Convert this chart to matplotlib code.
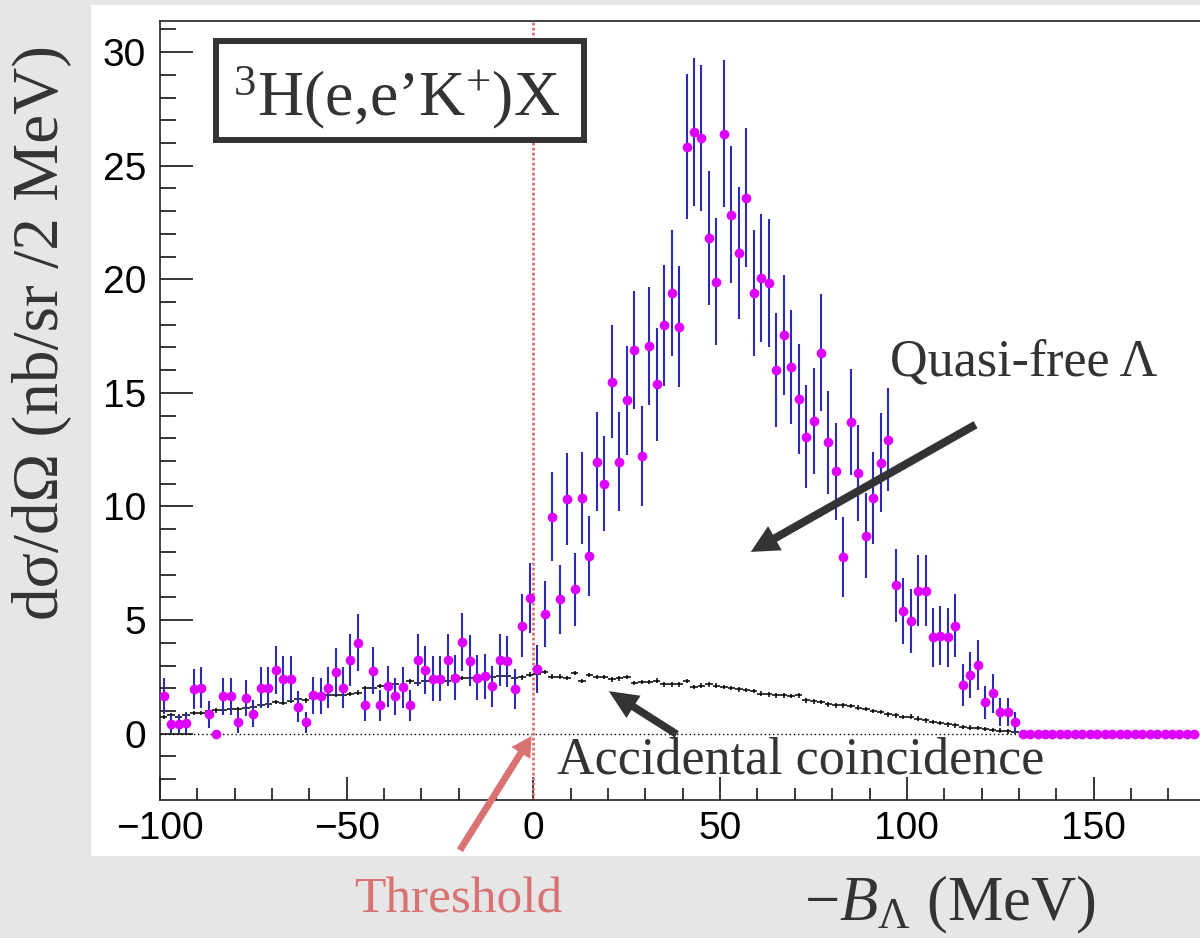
import numpy as np
import matplotlib
matplotlib.use('Agg')
from matplotlib import pyplot as plt
from matplotlib.patches import Rectangle
from matplotlib.ticker import MultipleLocator

plt.rcParams['mathtext.fontset'] = 'custom'
plt.rcParams['mathtext.rm'] = 'Liberation Serif'
plt.rcParams['mathtext.it'] = 'Liberation Serif:italic'
plt.rcParams['mathtext.bf'] = 'Liberation Serif:bold'

# 2 MeV bins, centres at -99 ... 177
bin_centers = np.arange(-99, 178, 2)

# (e,e'K+) cross section, nb/sr/2MeV
signal = [
    1.66, 0.43, 0.43, 0.48, 1.96, 2.02, 0.85, 0.00, 1.64, 1.64,
    0.50, 1.58, 0.88, 2.02, 2.02, 2.80, 2.42, 2.42, 1.19, 0.50,
    1.68, 1.66, 2.02, 2.72, 2.02, 3.24, 4.00, 1.24, 2.78, 1.24,
    2.08, 1.64, 2.05, 1.24, 3.25, 2.81, 2.42, 2.42, 3.25, 2.46,
    4.05, 3.22, 2.46, 2.52, 2.08, 3.25, 3.19, 1.95, 4.76, 5.96,
    2.85, 5.27, 9.55, 5.91, 10.32, 6.35, 10.38, 7.83, 11.97, 11.00,
    15.49, 11.97, 14.67, 16.90, 12.22, 17.08, 15.37, 17.98, 19.38, 17.92,
    25.84, 26.48, 26.22, 21.82, 19.90, 26.41, 22.84, 21.17, 23.60, 19.39,
    20.04, 19.84, 16.00, 17.54, 16.14, 14.73, 13.08, 13.77, 16.77, 12.82,
    11.55, 7.78, 13.71, 11.47, 8.72, 10.38, 11.92, 12.94, 6.54, 5.40,
    4.95, 6.30, 6.30, 4.25, 4.32, 4.25, 4.76, 2.15, 2.59, 3.03,
    1.38, 1.77, 0.94, 0.94, 0.50, 0.00, 0.00, 0.00, 0.00, 0.00,
    0.00, 0.00, 0.00, 0.00, 0.00, 0.00, 0.00, 0.00, 0.00, 0.00,
    0.00, 0.00, 0.00, 0.00, 0.00, 0.00, 0.00, 0.00, 0.00,
]

signal_err = [
    0.81, 0.41, 0.41, 0.44, 0.88, 0.90, 0.58, 0.00, 0.81, 0.81,
    0.45, 0.79, 0.59, 0.90, 0.90, 1.05, 0.98, 0.98, 0.69, 0.45,
    0.82, 0.81, 0.90, 1.04, 0.90, 1.13, 1.26, 0.70, 1.05, 0.70,
    0.91, 0.81, 0.90, 0.70, 1.14, 1.06, 0.98, 0.98, 1.14, 0.99,
    1.27, 1.13, 0.99, 1.00, 0.91, 1.14, 1.13, 0.88, 1.37, 1.54,
    1.06, 1.45, 1.95, 1.53, 2.02, 1.59, 2.03, 1.76, 2.18, 2.09,
    2.48, 2.18, 2.41, 2.59, 2.20, 2.60, 2.47, 2.67, 2.77, 2.67,
    3.20, 3.24, 3.23, 2.94, 2.81, 3.24, 3.01, 2.90, 3.06, 2.77,
    2.82, 2.81, 2.52, 2.64, 2.53, 2.42, 2.28, 2.34, 2.58, 2.26,
    2.14, 1.76, 2.33, 2.13, 1.86, 2.03, 2.18, 2.27, 1.61, 1.46,
    1.40, 1.58, 1.58, 1.30, 1.31, 1.30, 1.37, 0.92, 1.01, 1.10,
    0.74, 0.84, 0.61, 0.61, 0.45, 0.00, 0.00, 0.00, 0.00, 0.00,
    0.00, 0.00, 0.00, 0.00, 0.00, 0.00, 0.00, 0.00, 0.00, 0.00,
    0.00, 0.00, 0.00, 0.00, 0.00, 0.00, 0.00, 0.00, 0.00,
]

# accidental coincidence background
accidental = [
    0.73, 0.80, 0.75, 0.84, 0.90, 0.90, 0.99, 1.02, 1.04, 1.10,
    1.07, 1.11, 1.17, 1.26, 1.29, 1.39, 1.35, 1.45, 1.51, 1.46,
    1.57, 1.55, 1.71, 1.71, 1.71, 1.75, 1.80, 2.02, 2.02, 2.09,
    2.09, 2.17, 2.07, 2.30, 2.22, 2.31, 2.34, 2.39, 2.31, 2.53,
    2.46, 2.46, 2.46, 2.53, 2.48, 2.56, 2.56, 2.45, 2.48, 2.60,
    2.61, 2.71, 2.51, 2.51, 2.46, 2.68, 2.31, 2.58, 2.49, 2.49,
    2.39, 2.43, 2.49, 2.24, 2.27, 2.28, 2.34, 2.17, 2.17, 2.17,
    2.31, 2.05, 2.12, 2.17, 2.12, 2.05, 2.00, 1.95, 1.92, 1.87,
    1.76, 1.73, 1.69, 1.69, 1.66, 1.69, 1.46, 1.42, 1.39, 1.29,
    1.24, 1.24, 1.21, 1.14, 1.09, 0.99, 0.96, 0.85, 0.80, 0.73,
    0.75, 0.66, 0.59, 0.52, 0.46, 0.41, 0.36, 0.30, 0.27, 0.24,
    0.20, 0.16, 0.13, 0.10, 0.08, 0.00, 0.00, 0.00, 0.00, 0.00,
    0.00, 0.00, 0.00, 0.00, 0.00, 0.00, 0.00, 0.00, 0.00, 0.00,
    0.00, 0.00, 0.00, 0.00, 0.00, 0.00, 0.00, 0.00, 0.00,
]
accidental_err = 0.1
bin_half_width = 1.0

threshold = 0.0

W, H = 1200, 938


def fx(px):
    return px / W


def fy(py):
    return 1 - py / H


SERIF = 'Liberation Serif'
DARK = '#333333'
SALMON = '#d97373'

fig = plt.figure(figsize=(W / 100, H / 100), dpi=100, facecolor='#e6e6e6')

# white canvas behind the plot
fig.patches.append(Rectangle((fx(91), fy(856)), 1 - fx(91), (856 - 5) / H,
                             transform=fig.transFigure, facecolor='white',
                             edgecolor='none', zorder=-1))

ax = fig.add_axes([fx(160), fy(800), 1 - fx(160), (800 - 21) / H])
ax.set_facecolor('white')

# accidental background
ax.errorbar(bin_centers, accidental, xerr=bin_half_width, yerr=accidental_err,
            fmt='none', ecolor='black', elinewidth=1.1, capsize=0, zorder=3)

# data points
ax.errorbar(bin_centers, signal, yerr=signal_err, fmt='none',
            ecolor='#2b2bb8', elinewidth=1.5, capsize=0, zorder=4)
ax.plot(bin_centers, signal, 'o', color='#dd00ff', ms=7, mec='#dd00ff',
        mew=0, zorder=5)

ax.axhline(0, color='black', lw=1.0, ls=(0, (1, 2)), zorder=2)
ax.axvline(threshold, color='#e07070', lw=2.0, ls=(0, (1, 0.8)), zorder=2)

ax.set_xlim(-100, 178.5)
ax.set_ylim(-2.92, 31.37)

ax.xaxis.set_major_locator(MultipleLocator(50))
ax.xaxis.set_minor_locator(MultipleLocator(10))
ax.yaxis.set_major_locator(MultipleLocator(5))
ax.yaxis.set_minor_locator(MultipleLocator(1))
ax.tick_params(which='both', direction='in', top=False, right=False,
               color='black', width=1.1, labelsize=28)
ax.tick_params(axis='x', which='major', length=16.5, pad=8)
ax.tick_params(axis='x', which='minor', length=8.6)
ax.tick_params(axis='y', which='major', length=23.8, pad=10)
ax.tick_params(axis='y', which='minor', length=11.5)
for lab in ax.get_xticklabels() + ax.get_yticklabels():
    lab.set_fontfamily('Liberation Sans')

ax.spines['right'].set_visible(False)
for s in ['left', 'bottom', 'top']:
    ax.spines[s].set_color('#222222')
    ax.spines[s].set_linewidth(1.2)

# arrows
ax.annotate('', xy=(58.2, 8.0), xytext=(118.4, 13.6),
            arrowprops=dict(arrowstyle='simple,head_length=2.0,head_width=2.0,tail_width=0.58',
                            mutation_scale=10, color=DARK, lw=0,
                            shrinkA=0, shrinkB=0), zorder=6)
ax.annotate('', xy=(20.2, 1.87), xytext=(38.4, -0.03),
            arrowprops=dict(arrowstyle='simple,head_length=2.1,head_width=1.9,tail_width=0.55',
                            mutation_scale=10, color=DARK, lw=0,
                            shrinkA=0, shrinkB=0), zorder=6)
ax.annotate('', xy=(-0.5, -0.1), xytext=(-19.7, -5.13),
            arrowprops=dict(arrowstyle='simple,head_length=1.45,head_width=1.6,tail_width=0.5',
                            mutation_scale=10, color=SALMON, lw=0,
                            shrinkA=0, shrinkB=0),
            annotation_clip=False, zorder=6)

# reaction label box
fig.patches.append(Rectangle((fx(216), fy(140)), (584 - 216) / W, (140 - 41) / H,
                             transform=fig.transFigure, facecolor='white',
                             edgecolor=DARK, lw=4.3, zorder=5))
fig.text(fx(397), fy(115), r'$^{3}$H(e,e’K$^{+}$)X', family=SERIF, fontsize=46,
         color=DARK, ha='center', va='baseline', zorder=6)

fig.text(fx(890), fy(375), 'Quasi-free Λ', family=SERIF, fontsize=37.5,
         color=DARK, ha='left', va='baseline', zorder=6)
fig.text(fx(557), fy(773), 'Accidental coincidence', family=SERIF, fontsize=37.5,
         color=DARK, ha='left', va='baseline', zorder=6)
fig.text(fx(458), fy(912), 'Threshold', family=SERIF, fontsize=37,
         color=SALMON, ha='center', va='baseline', zorder=6)

fig.text(fx(42), fy(332), 'dσ/dΩ (nb/sr /2 MeV)', family=SERIF, fontsize=47,
         color=DARK, rotation=90, ha='center', va='center')
fig.text(fx(950), fy(920), r'$-B_{\Lambda}$ (MeV)', family=SERIF, fontsize=45,
         color=DARK, ha='center', va='baseline')

fig.savefig('out.png', dpi=100)
